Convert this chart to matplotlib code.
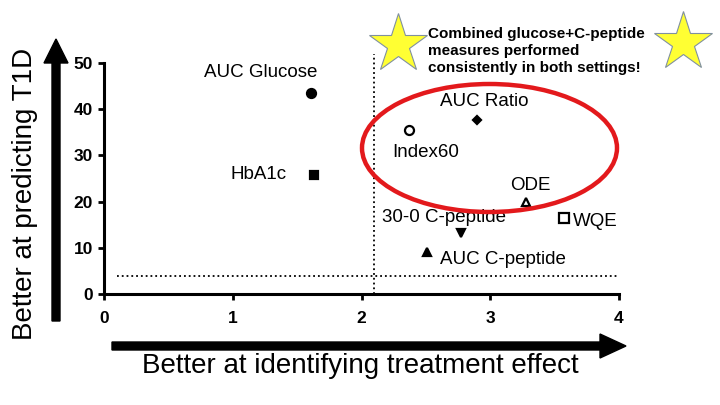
import matplotlib
matplotlib.use("Agg")
import matplotlib.pyplot as plt
from matplotlib.patches import FancyArrow, Ellipse
from matplotlib.lines import Line2D
from matplotlib.transforms import IdentityTransform

matplotlib.rcParams["font.family"] = ["Liberation Sans", "DejaVu Sans"]

# measures: treatment effect (x) vs. prediction of T1D (y)
names = ["AUC Glucose", "HbA1c", "Index60", "AUC Ratio", "ODE", "WQE",
         "30-0 C-peptide", "AUC C-peptide"]
x_vals = [1.61, 1.63, 2.37, 2.90, 3.28, 3.57, 2.77, 2.51]
y_vals = [43.5, 25.8, 35.5, 37.6, 19.9, 16.5, 13.3, 9.0]
x_cut = 2.1
y_cut = 4
x_ticks = [0, 1, 2, 3, 4]
y_ticks = [0, 10, 20, 30, 40, 50]

# marker styles: (marker, filled, size)
styles = [("o", True, 6.5), ("s", True, 6), ("o", False, 6.5), ("D", True, 4.5),
          ("^", False, 6), ("s", False, 6.5), ("v", True, 6), ("^", True, 5.5)]
# label placement (x, y, ha)
label_pos = [(1.22, 48.0, "center"), (1.42, 25.8, "right"), (2.50, 30.6, "center"),
             (2.95, 41.7, "center"), (3.31, 23.5, "center"), (3.64, 15.8, "left"),
             (2.64, 16.6, "center"), (2.61, 7.5, "left")]

fig = plt.figure(figsize=(7.2, 4.05), dpi=100)
ax = fig.add_axes([104 / 720, 1 - 294 / 405, 515 / 720, 231 / 405])

ax.plot([x_cut, x_cut], [0, 52], ls=":", color="black", lw=1.3, clip_on=False)
ax.plot([0.1, 4], [y_cut, y_cut], ls=":", color="black", lw=1.3)

for name, x, y, (m, filled, ms), (lx, ly, ha) in zip(names, x_vals, y_vals, styles, label_pos):
    ax.plot(x, y, marker=m, ms=ms, mec="black", mew=1.6,
            mfc="black" if filled else "white", ls="none", clip_on=False, zorder=4)
    ax.text(lx, ly, name, ha=ha, va="center", fontsize=13.5)

ax.set_xlim(0, 4)
ax.set_ylim(0, 50)
ax.set_xticks(x_ticks)
ax.set_yticks(y_ticks)
for s in ["top", "right"]:
    ax.spines[s].set_visible(False)
for s in ["left", "bottom"]:
    ax.spines[s].set_linewidth(2.2)
ax.tick_params(width=2, length=4, labelsize=12.5, pad=4)
ax.tick_params(axis="x", pad=8)
for lab in ax.get_xticklabels() + ax.get_yticklabels():
    lab.set_fontweight("bold")

# big axis arrows and titles (pixel coordinates)
H = 405
fig.add_artist(FancyArrow(112, H - 346, 488, 0, width=8, head_width=24, head_length=26,
                          length_includes_head=False, color="black", transform=IdentityTransform()))
fig.add_artist(FancyArrow(56, H - 321, 0, 258, width=8, head_width=24, head_length=24,
                          length_includes_head=False, color="black", transform=IdentityTransform()))
fig.text(360 / 720, 1 - 366 / H, "Better at identifying treatment effect",
         ha="center", va="center", fontsize=20)
fig.text(25 / 720, 1 - 194 / H, "Better at predicting T1D",
         ha="center", va="center", fontsize=20, rotation=90)

# highlight ellipse
fig.add_artist(Ellipse((489.5, H - 148), 255, 128, fill=False, edgecolor="#E3191C",
                       lw=3.2, transform=IdentityTransform(), zorder=5))

# stars and note
for sx, sy in [(398, 44), (683, 42)]:
    fig.add_artist(Line2D([sx], [H - sy], marker="*", ms=44, mfc="#FFFF33", mec="#8090a0",
                          mew=0.8, transform=IdentityTransform()))
fig.text(428 / 720, 1 - 27 / H,
         "Combined glucose+C-peptide\nmeasures performed\nconsistently in both settings!",
         ha="left", va="top", fontsize=11, fontweight="bold", linespacing=1.28)

fig.savefig("out.png", dpi=100)
